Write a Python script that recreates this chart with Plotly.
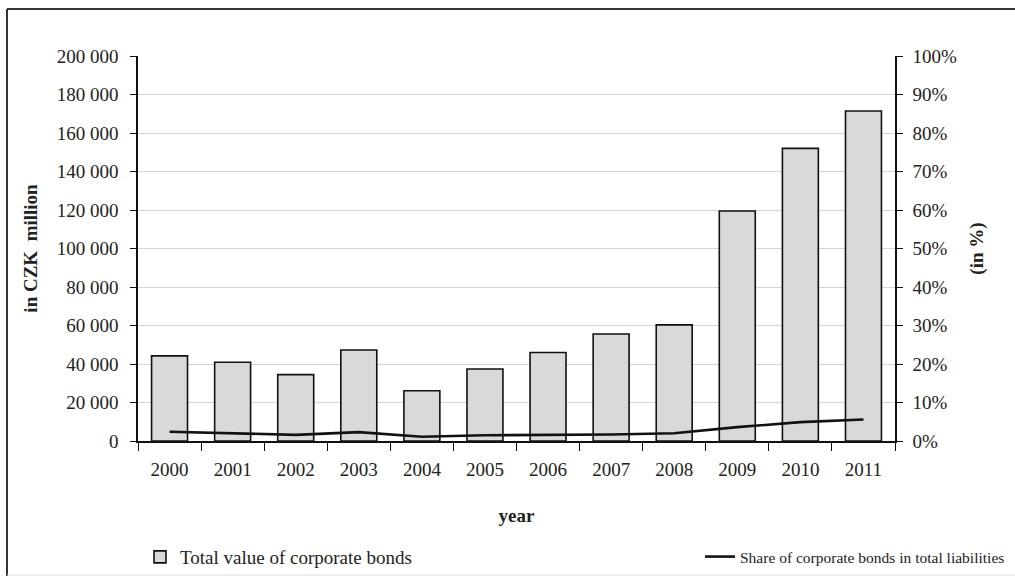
import plotly.graph_objects as go

years = ["2000", "2001", "2002", "2003", "2004", "2005", "2006", "2007", "2008", "2009", "2010", "2011"]
bond_value = [44200, 40900, 34500, 47300, 26100, 37400, 46000, 55600, 60300, 119500, 152000, 171400]
share_pct = [2.4, 2.0, 1.6, 2.3, 1.1, 1.5, 1.6, 1.7, 2.0, 3.6, 4.9, 5.6]

FONT = "Liberation Serif"
TXT = "#222222"

fig = go.Figure()
fig.add_trace(go.Bar(
    x=years, y=bond_value, name="Total value of corporate bonds",
    marker=dict(color="#d9d9d9", line=dict(color="#111111", width=1.6)),
    width=0.57, yaxis="y", legend="legend",
))
fig.add_trace(go.Scatter(
    x=years, y=share_pct, name="Share of corporate bonds in total liabilities",
    mode="lines", line=dict(color="#111111", width=2.6), yaxis="y2", legend="legend2",
))

W, H = 1015, 580
L, R, T, B = 138, 895, 56, 441
pw, ph = R - L, B - T

def px(x):
    return (x - L) / pw

def py(y):
    return (B - y) / ph

fig.update_layout(
    width=W, height=H,
    margin=dict(l=L, r=W - R, t=T, b=H - B, pad=0, autoexpand=False),
    paper_bgcolor="white", plot_bgcolor="white",
    font=dict(family=FONT, size=19, color=TXT),
    separators=". ",
    bargap=0.43,
    showlegend=True,
    legend=dict(
        orientation="h", xref="container", yref="container",
        x=140 / W, y=1 - 557 / H, xanchor="left", yanchor="middle",
        font=dict(family=FONT, size=19, color=TXT), itemwidth=30, bgcolor="rgba(0,0,0,0)",
    ),
    legend2=dict(
        orientation="h", xref="container", yref="container",
        x=700 / W, y=1 - 557 / H, xanchor="left", yanchor="middle",
        font=dict(family=FONT, size=15.5, color=TXT), itemwidth=30, bgcolor="rgba(0,0,0,0)",
    ),
    xaxis=dict(
        showline=True, linecolor="#111111", linewidth=1.5,
        ticks="outside", ticklen=8, tickcolor="#111111", tickwidth=1.3,
        tickson="boundaries", showgrid=False,
        title=dict(text="<b>year</b>", font=dict(family=FONT, size=19, color=TXT), standoff=30),
        ticklabelstandoff=10,
    ),
    yaxis=dict(
        range=[0, 200000], dtick=20000, tickformat=",d",
        showline=True, linecolor="#111111", linewidth=1.5,
        ticks="outside", ticklen=6, tickcolor="#111111", tickwidth=1.3,
        showgrid=True, gridcolor="#d4d4d4", gridwidth=1,
        zeroline=False,
        title=dict(text="<b>in CZK  million</b>", font=dict(family=FONT, size=19, color=TXT), standoff=14),
        ticklabelstandoff=8,
    ),
    yaxis2=dict(
        range=[0, 100], dtick=10, ticksuffix="%", overlaying="y", side="right",
        showline=True, linecolor="#111111", linewidth=1.5,
        ticks="outside", ticklen=6, tickcolor="#111111", tickwidth=1.3,
        showgrid=False, zeroline=False,
        title=dict(text="<b>(in %)</b>", font=dict(family=FONT, size=19, color=TXT), standoff=14),
        ticklabelstandoff=6,
    ),
    shapes=[
        dict(type="line", xref="paper", yref="paper", x0=px(7), x1=px(1020), y0=py(9), y1=py(9),
             line=dict(color="#333333", width=2)),
        dict(type="line", xref="paper", yref="paper", x0=px(7), x1=px(7), y0=py(9), y1=py(576),
             line=dict(color="#333333", width=2)),
        dict(type="line", xref="paper", yref="paper", x0=px(7), x1=px(1020), y0=py(575), y1=py(575),
             line=dict(color="#dddddd", width=1)),
    ],
)

fig.write_html("out.html")
